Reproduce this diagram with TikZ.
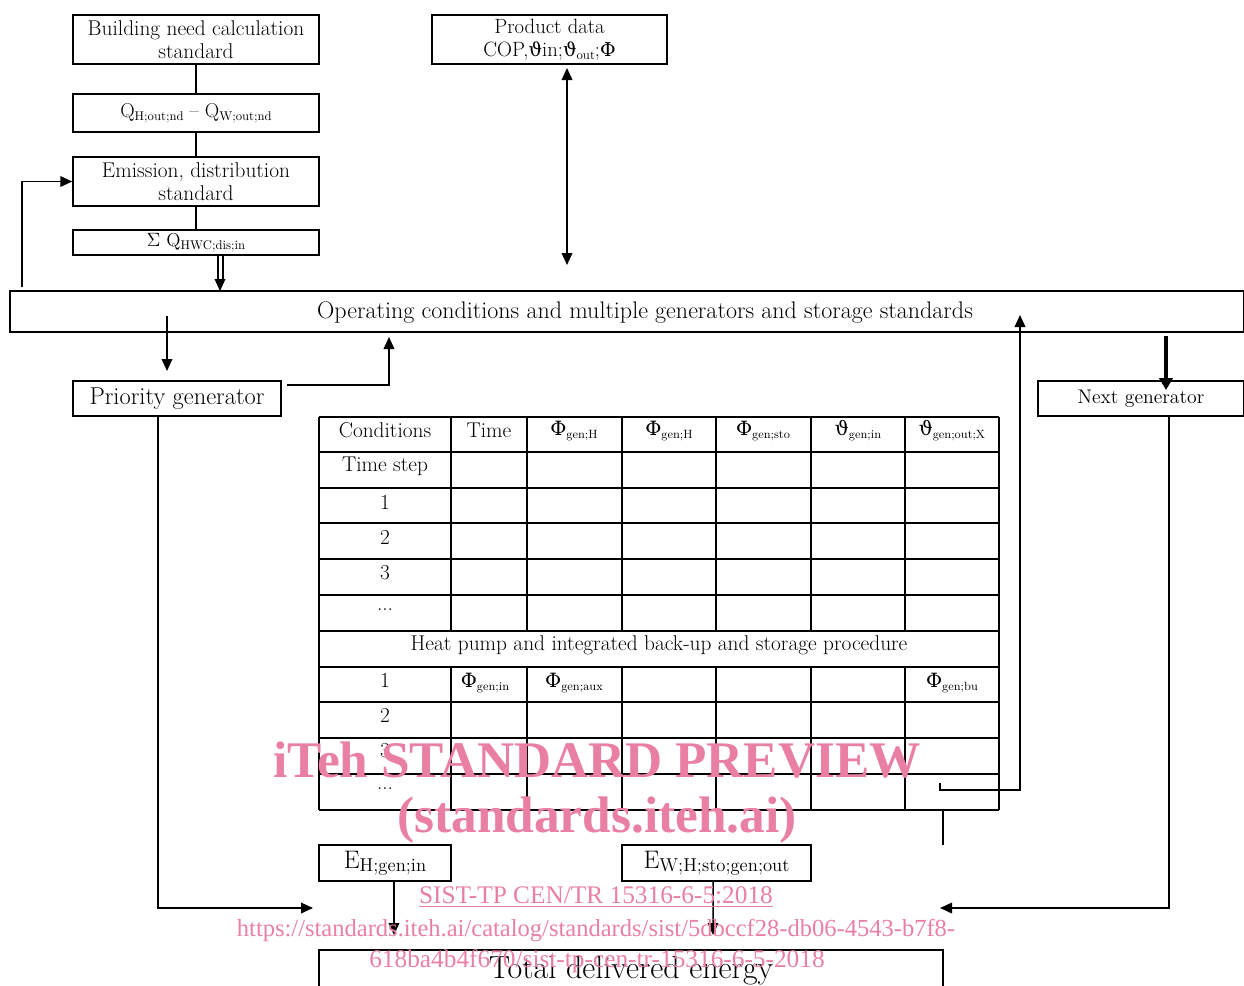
\documentclass[tikz,border=0pt]{standalone}
\usepackage{fontspec}
\usetikzlibrary{arrows.meta}
\newfontfamily\wmfont{Liberation Serif}
\newfontfamily\grk{DejaVu Serif}[Scale=0.92]
\definecolor{wmpink}{RGB}{233,128,163}
\newcommand\fs[2]{\fontsize{#1}{#2}\selectfont}
\newcommand\sbs[1]{\raisebox{-0.35ex}{\fs{9.5}{10}#1}}
\newcommand\sbt[1]{\raisebox{-0.35ex}{\fs{9}{10}#1}}
\newcommand\Ph{{\grk Φ}}
\newcommand\Th{{\grk ϑ}}
\begin{document}
\begin{tikzpicture}[x=0.75pt,y=-0.75pt,
  box/.style={draw, line width=1.1pt, inner sep=0pt, align=center, font=\fs{16}{17.5}},
  arr/.style={line width=1.1pt, -{Triangle[width=8pt,length=9pt]}},
  conn/.style={line width=1.1pt},
  tl/.style={line width=1.1pt},
  cell/.style={inner sep=0pt, font=\fs{16}{17}},
  wm/.style={text=wmpink, inner sep=0pt, font=\wmfont}]
\useasboundingbox (0,0) rectangle (1244,985);

% left column boxes
\node[box, minimum width=184.5pt, minimum height=36.75pt] (b1) at (196,39.5) {Building need calculation\\standard};
\node[box, minimum width=184.5pt, minimum height=28.5pt, font=\fs{15}{17}] (b2) at (196,113) {Q\sbs{H;out;nd} -- Q\sbs{W;out;nd}};
\node[box, minimum width=184.5pt, minimum height=18.75pt, font=\fs{14}{15}] (b4) at (196,242.5) {$\Sigma$ Q\sbs{HWC;dis;in}};
\node[box, minimum width=184.5pt, minimum height=36.75pt] (b3) at (196,181.5) {Emission, distribution\\standard};
\draw[conn] (b1) -- (b2);
\draw[conn] (b2) -- (b3);
\draw[conn] (b3) -- (b4);

% product data
\node[box, minimum width=176.25pt, minimum height=36.75pt, font=\fs{15.5}{17.5}] (pd) at (549.5,39.5) {Product data\\COP,\Th in;\Th\sbs{out};\Ph};

% operating conditions
\node[box, minimum width=925.5pt, minimum height=30.75pt] (op) at (627,311.5) {};
\node[inner sep=0pt, font=\fs{18}{20}] (opt) at (645,313) {Operating conditions and multiple generators and storage standards};

% generators
\node[box, minimum width=156pt, minimum height=26.25pt, font=\fs{18.3}{20}] (pg) at (177,398.5) {Priority generator};
\node[box, minimum width=154.5pt, minimum height=26.25pt, font=\fs{14.8}{17}] (ng) at (1141,398.5) {Next generator};

% energy boxes
\node[box, minimum width=99pt, minimum height=27pt, font=\fs{19}{20}] (eh) at (385,863) {E\raisebox{-0.3ex}{\fs{14}{15}H;gen;in}};
\node[box, minimum width=141.75pt, minimum height=27pt, font=\fs{19}{20}] (ew) at (716.5,863) {E\raisebox{-0.3ex}{\fs{14}{15}W;H;sto;gen;out}};
\node[box, minimum width=468pt, minimum height=31.5pt, font=\fs{24}{26}] (td) at (631,971) {\raisebox{-1.2ex}{Total delivered energy}};

% table grid
\foreach \y in {417,452,488,523,559,595,631,667,702,738,774,810}
  \draw[tl] (319,\y) -- (999,\y);
\draw[tl] (319,417) -- (319,810);
\draw[tl] (999,417) -- (999,810);
\foreach \x in {451,527,622,716,811,905}{
  \draw[tl] (\x,417) -- (\x,631);
  \draw[tl] (\x,667) -- (\x,810);
}
% table texts
\node[cell] (c11) at (385,430) {Conditions};
\node[cell] (c12) at (489,430) {Time};
\node[cell] (c13) at (574,431) {\Ph\sbt{gen;H}};
\node[cell] (c14) at (669,431) {\Ph\sbt{gen;H}};
\node[cell] (c15) at (763,431) {\Ph\sbt{gen;sto}};
\node[cell] (c16) at (858,431) {\Th\sbt{gen;in}};
\node[cell] (c17) at (952,431) {\Th\sbt{gen;out;X}};
\node[cell] (c21) at (385,466) {Time step};
\node[cell] (c31) at (385,502) {1};
\node[cell] (c41) at (385,537) {2};
\node[cell] (c51) at (385,573) {3};
\node[cell] (c61) at (385,610) {...};
\node[cell] (hp) at (659,645) {Heat pump and integrated back-up and storage procedure};
\node[cell] (d11) at (385,680) {1};
\node[cell] (d12) at (485,683) {\Ph\sbt{gen;in}};
\node[cell] (d13) at (574,683) {\Ph\sbt{gen;aux}};
\node[cell] (d17) at (952,683) {\Ph\sbt{gen;bu}};
\node[cell] (d21) at (385,715) {2};
\node[cell] (d31) at (385,751) {3};
\node[cell] (d41) at (385,789) {...};

% connectors
\draw[line width=0.9pt] ([xshift=16.5pt]b4.south) -- (218,283);
\draw[line width=0.9pt] ([xshift=20.25pt]b4.south) -- (223,283);
\draw[arr] (220,281) -- (220,291);

\coordinate (pdt) at (567,68);
\coordinate (pdb) at (567,265);
\draw[line width=1.1pt, {Triangle[width=8pt,length=9pt]}-{Triangle[width=8pt,length=9pt]}] (pdt) -- (pdb);

\coordinate (fb) at (22,287);
\draw[arr] (fb) |- (b3.west);

\coordinate (op1) at (167,316);
\coordinate (pg1) at (167,371);
\draw[arr] (op1) -- (pg1);

\coordinate (pgr) at (287,385);
\coordinate (opb) at (389,337);
\draw[arr] (pgr) -| (opb);

\coordinate (ng1) at (1166,336);
\coordinate (ng2) at (1166,390);
\draw[line width=2.6pt, -{Triangle[width=10pt,length=9pt]}] (ng1) -- (ng2);

\coordinate (rt1) at (940,783);
\coordinate (rt2) at (1020,315);
\draw[arr] (rt1) |- (1020,790) -- (rt2);
\coordinate (tb1) at (943,810);
\coordinate (tb2) at (943,845);
\draw[line width=0.9pt] (tb1) -- (tb2);

\coordinate (ll) at (313,908);
\draw[arr] (158,416) |- (ll);
\coordinate (rr) at (940,908);
\draw[arr] (1169,416) |- (rr);

\coordinate (eh2) at (394,935);
\draw[arr] ([xshift=6.75pt]eh.south) -- (eh2);
\coordinate (ew2) at (713,935);
\draw[arr] ([xshift=-2.6pt]ew.south) -- (ew2);

% watermark
\node[wm, font=\wmfont\bfseries\fs{38.5}{40}] (w1) at (597,760) {iTeh STANDARD PREVIEW};
\node[wm, font=\wmfont\bfseries\fs{38.5}{40}] (w2) at (597,820) {(standards.iteh.ai)};
\node[wm, font=\wmfont\fs{19}{21}] (w3) at (596,897) {\underline{SIST-TP CEN/TR 15316-6-5:2018}};
\node[wm, font=\wmfont\fs{18.4}{21}] (w4) at (596,930) {https://standards.iteh.ai/catalog/standards/sist/5dbccf28-db06-4543-b7f8-};
\node[wm, font=\wmfont\fs{19}{21}] (w5) at (597,961) {618ba4b4f670/sist-tp-cen-tr-15316-6-5-2018};
\end{tikzpicture}
\end{document}
